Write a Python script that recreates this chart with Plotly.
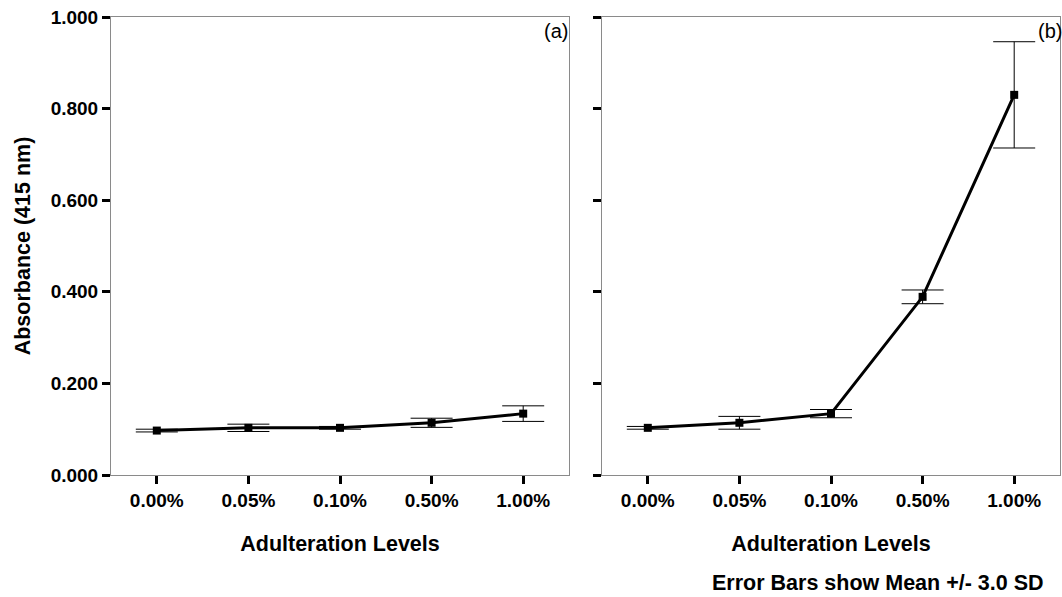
import plotly.graph_objects as go

# Adulteration levels (categories on the x axis)
levels = ["0.00%", "0.05%", "0.10%", "0.50%", "1.00%"]

# Panel (a): mean absorbance and 3 SD half-widths
mean_a = [0.097, 0.103, 0.103, 0.114, 0.134]
err_a = [0.003, 0.008, 0.003, 0.010, 0.017]

# Panel (b): mean absorbance and 3 SD half-widths
mean_b = [0.103, 0.114, 0.134, 0.389, 0.830]
err_b = [0.003, 0.014, 0.009, 0.015, 0.116]

y_ticks = [0.0, 0.2, 0.4, 0.6, 0.8, 1.0]
y_labels = ["0.000", "0.200", "0.400", "0.600", "0.800", "1.000"]

W, H = 1062, 597
FONT = "Liberation Sans, Arial, sans-serif"

fig = go.Figure()

for i, (m, e) in enumerate([(mean_a, err_a), (mean_b, err_b)]):
    xa = "x" if i == 0 else "x2"
    ya = "y" if i == 0 else "y2"
    fig.add_trace(go.Scatter(
        x=levels, y=m, xaxis=xa, yaxis=ya,
        mode="lines+markers",
        line=dict(color="black", width=3),
        marker=dict(symbol="square", size=8, color="black"),
        error_y=dict(type="data", array=e, visible=True,
                     color="black", thickness=1, width=21),
        showlegend=False, hoverinfo="skip",
    ))

left_dom = [111 / W, 569 / W]
right_dom = [602 / W, 1060 / W]
y_dom = [1 - 475 / H, 1 - 17 / H]

xcommon = dict(
    type="category", range=[-0.5, 4.5], automargin=False,
    showline=True, linecolor="#8a8a8a", linewidth=1, mirror=True,
    showgrid=False, zeroline=False,
    ticks="outside", ticklen=8, tickwidth=3, tickcolor="black",
    tickfont=dict(family=FONT, size=19, color="black", weight="bold"),
    title=dict(text="Adulteration Levels", standoff=26,
               font=dict(family=FONT, size=21.5, color="black", weight="bold")),
)
ycommon = dict(
    range=[0, 1.0], tickvals=y_ticks, automargin=False,
    showline=True, linecolor="#8a8a8a", linewidth=1, mirror=True,
    showgrid=False, zeroline=False,
    ticks="outside", ticklen=8, tickwidth=3, tickcolor="black",
    tickfont=dict(family=FONT, size=19, color="black", weight="bold"),
    domain=y_dom,
)

fig.update_layout(
    width=W, height=H,
    margin=dict(l=0, r=0, t=0, b=0),
    paper_bgcolor="white", plot_bgcolor="white",
    xaxis=dict(domain=left_dom, anchor="y", **xcommon),
    xaxis2=dict(domain=right_dom, anchor="y2", **xcommon),
    yaxis=dict(anchor="x", ticktext=y_labels,
               title=dict(text="Absorbance (415 nm)", standoff=14,
                          font=dict(family=FONT, size=21.5, color="black", weight="bold")),
               **ycommon),
    yaxis2=dict(anchor="x2", ticktext=[""] * len(y_ticks), **ycommon),
    annotations=[
        dict(text="(a)", xref="paper", yref="paper", x=570 / W, y=1 - 18 / H,
             xanchor="right", yanchor="top", showarrow=False,
             font=dict(family=FONT, size=20, color="black")),
        dict(text="(b)", xref="paper", yref="paper", x=1064 / W, y=1 - 18 / H,
             xanchor="right", yanchor="top", showarrow=False,
             font=dict(family=FONT, size=20, color="black")),
        dict(text="Error Bars show Mean +/- 3.0 SD", xref="paper", yref="paper",
             x=1046 / W, y=1 - 583 / H, xanchor="right", yanchor="middle",
             showarrow=False,
             font=dict(family=FONT, size=21.5, color="black", weight="bold")),
    ],
)

fig.write_html("out.html")
